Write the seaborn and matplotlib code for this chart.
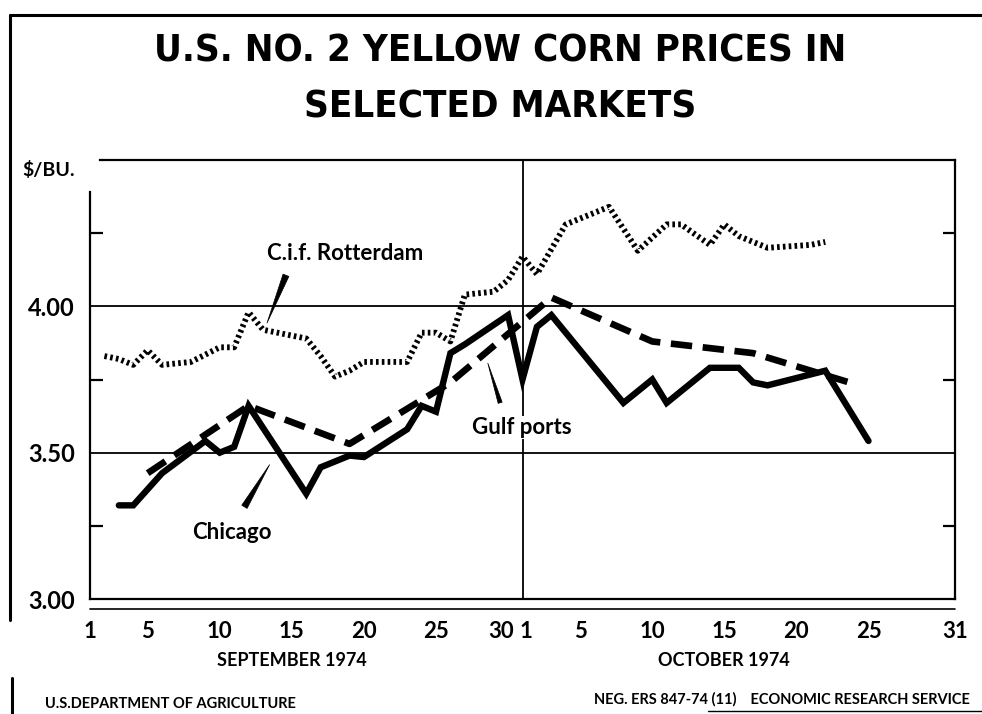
import pandas as pd
import numpy as np
import seaborn as sns
import matplotlib.pyplot as plt
from matplotlib.lines import Line2D
from matplotlib.transforms import ScaledTranslation

# prices in $/bu (Sept-Oct 1974)
rott_dates = ['09-02', '09-03', '09-04', '09-05', '09-06', '09-08', '09-10', '09-11',
              '09-12', '09-13', '09-16', '09-17', '09-18', '09-19', '09-20', '09-23',
              '09-24', '09-25', '09-26', '09-27', '09-29', '09-30', '10-01', '10-02',
              '10-04', '10-07', '10-09', '10-11', '10-12', '10-14', '10-15', '10-16',
              '10-18', '10-21', '10-22']
rott_price = [3.83, 3.82, 3.80, 3.85, 3.80, 3.81, 3.86, 3.86,
              3.98, 3.92, 3.89, 3.83, 3.76, 3.78, 3.81, 3.81,
              3.91, 3.91, 3.88, 4.04, 4.05, 4.09, 4.17, 4.11,
              4.28, 4.34, 4.19, 4.28, 4.28, 4.21, 4.28, 4.24,
              4.20, 4.21, 4.22]

chi_dates = ['09-03', '09-04', '09-06', '09-09', '09-10', '09-11', '09-12', '09-16',
             '09-17', '09-19', '09-20', '09-23', '09-24', '09-25', '09-26', '09-27',
             '09-30', '10-01', '10-02', '10-03', '10-08', '10-10', '10-11', '10-14',
             '10-16', '10-17', '10-18', '10-22', '10-25']
chi_price = [3.32, 3.32, 3.43, 3.54, 3.50, 3.52, 3.66, 3.36,
             3.45, 3.49, 3.485, 3.58, 3.66, 3.64, 3.84, 3.87,
             3.97, 3.75, 3.93, 3.97, 3.67, 3.75, 3.67, 3.79,
             3.79, 3.74, 3.73, 3.78, 3.54]

gulf_dates = ['09-05', '09-12', '09-19', '09-26', '10-03', '10-10', '10-17', '10-24']
gulf_price = [3.43, 3.66, 3.53, 3.74, 4.03, 3.88, 3.84, 3.735]

tick_days = [1, 5, 10, 15, 20, 25, 30, 31, 35, 40, 45, 50, 55, 61]
tick_labels = ['1', '5', '10', '15', '20', '25', '30', '1', '5', '10', '15', '20', '25', '31']


def day_num(dates):
    d = pd.to_datetime(['1974-' + s for s in dates])
    return (d - pd.Timestamp('1974-08-31')).days


rott = pd.DataFrame({'day': day_num(rott_dates), 'price': rott_price})
chi = pd.DataFrame({'day': day_num(chi_dates), 'price': chi_price})
gulf = pd.DataFrame({'day': day_num(gulf_dates), 'price': gulf_price})

sns.set_style('white')
plt.rcParams['font.family'] = ['Lato', 'DejaVu Sans']
bold = dict(fontweight='bold', color='black')

W, H = 982, 714
fig = plt.figure(figsize=(W / 100, H / 100), dpi=100)
ax = fig.add_axes([90 / W, 1 - 599 / H, 865 / W, 439 / H])

sns.lineplot(data=rott, x='day', y='price', ax=ax, color='black', lw=4.2)
ax.lines[-1].set_linestyle((0, (0.45, 0.55)))
ax.lines[-1].set_dash_capstyle('butt')
sns.lineplot(data=chi, x='day', y='price', ax=ax, color='black', lw=4.6)
ax.lines[-1].set_solid_joinstyle('miter')
sns.lineplot(data=gulf, x='day', y='price', ax=ax, color='black', lw=4.8)
ax.lines[-1].set_linestyle((0, (3.2, 1.6)))

ax.set_xlim(1, 61)
ax.set_ylim(3.0, 4.5)
ax.set_xlabel('')
ax.set_ylabel('')

# grid-ish lines
for yv in [3.5, 4.0]:
    ax.axhline(yv, color='black', lw=1.3, zorder=0)
ax.axvline(31, color='black', lw=1.3, zorder=0)
ax.plot([0, 1], [-0.022, -0.022], transform=ax.transAxes, color='black',
        lw=1.2, clip_on=False)

for s in ax.spines.values():
    s.set_color('black')
    s.set_linewidth(1.6)
ax.spines['left'].set_bounds(3.0, 4.39)
ax.spines['top'].set_bounds(1.7, 61)

ax.set_xticks(tick_days)
ax.set_xticklabels(tick_labels, fontsize=16, **bold)
ax.tick_params(axis='x', direction='inout', length=20, width=1.3, pad=6,
               color='black')
# "30" sits a little left of its tick so it clears the Oct 1 label
xl = ax.get_xticklabels()
xl[6].set_transform(xl[6].get_transform() + ScaledTranslation(-7 / 100, 0, fig.dpi_scale_trans))
xl[7].set_transform(xl[7].get_transform() + ScaledTranslation(3 / 100, 0, fig.dpi_scale_trans))

ax.set_yticks([3.0, 3.5, 4.0])
ax.set_yticklabels(['3.00', '3.50', '4.00'], fontsize=17, **bold)
ax.tick_params(axis='y', length=0, pad=11)
ax.set_yticks([3.25, 3.75, 4.25], minor=True)
ax.tick_params(axis='y', which='minor', direction='in', length=9, width=1.6,
               left=True, right=True, color='black')


# series labels with wedge pointers
def px(x, y):
    return (1 + (x - 90) / 14.417, 4.0 - (y - 305.7) / 293.3)


ax.text(*px(345, 253), 'C.i.f. Rotterdam', ha='center', va='center', fontsize=16, **bold)
ax.text(*px(522, 427), 'Gulf ports', ha='center', va='center', fontsize=16,
        bbox=dict(facecolor='white', edgecolor='none', pad=1), **bold)
ax.text(*px(232, 532), 'Chicago', ha='center', va='center', fontsize=16, **bold)
wedge = dict(arrowstyle='wedge,tail_width=0.45', color='black', lw=0.5)
ax.annotate('', xy=px(266, 325), xytext=px(287, 272), arrowprops=wedge)
ax.annotate('', xy=px(487, 360), xytext=px(501, 405),
            arrowprops=dict(arrowstyle='wedge,tail_width=0.3', color='black', lw=0.5))
ax.annotate('', xy=px(271, 462), xytext=px(243, 509), arrowprops=wedge)

# titles and page text
title_kw = dict(ha='center', va='center', fontsize=27.5, family='DejaVu Sans',
                fontstretch='condensed', fontweight='heavy', color='black')
fig.text(500 / W, 1 - 51 / H, 'U.S. NO. 2 YELLOW CORN PRICES IN', **title_kw)
fig.text(500 / W, 1 - 107 / H, 'SELECTED MARKETS', **title_kw)
fig.text(22 / W, 1 - 170 / H, '$/BU.', ha='left', va='center', fontsize=14, **bold)
fig.text(292 / W, 1 - 660 / H, 'SEPTEMBER 1974', ha='center', va='center', fontsize=13, **bold)
fig.text(724 / W, 1 - 660 / H, 'OCTOBER 1974', ha='center', va='center', fontsize=13, **bold)
fig.text(45 / W, 1 - 704 / H, 'U.S.DEPARTMENT OF AGRICULTURE', ha='left', va='center',
         fontsize=10.5, **bold)
fig.text(970 / W, 1 - 699 / H, 'NEG. ERS 847-74 (11)    ECONOMIC RESEARCH SERVICE',
         ha='right', va='center', fontsize=10.5, **bold)

# page frame
fig.add_artist(Line2D([10 / W, 1], [1 - 15 / H] * 2, color='black', lw=2.2))
fig.add_artist(Line2D([10 / W] * 2, [1 - 15 / H, 1 - 620 / H], color='black', lw=2.2))
fig.add_artist(Line2D([12 / W] * 2, [1 - 678 / H, 0], color='black', lw=2.2))
fig.add_artist(Line2D([708 / W, 1], [1 - 711 / H] * 2, color='black', lw=1.0))

fig.savefig('out.png', dpi=100)
